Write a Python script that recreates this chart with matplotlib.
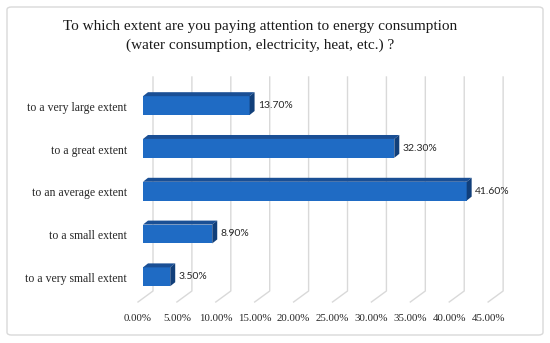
import matplotlib.pyplot as plt
from matplotlib.patches import Polygon, FancyBboxPatch

categories = ['to a very small extent', 'to a small extent', 'to an average extent',
              'to a great extent', 'to a very large extent']
values = [3.5, 8.9, 41.6, 32.3, 13.7]
ticks = [0, 5, 10, 15, 20, 25, 30, 35, 40, 45]
tick_labels = ['%.2f%%' % t for t in ticks]
title = ('To which extent are you paying attention to energy consumption\n'
         '(water consumption, electricity, heat, etc.) ?')

serif = 'Liberation Serif'
sans = 'Lato'

fig = plt.figure(figsize=(5.5, 3.43), dpi=100)
ax = fig.add_axes([0, 0, 1, 1])
ax.set_xlim(-18.38, 52.31)
ax.set_ylim(-1.547, 6.467)
ax.axis('off')

# 3d look: depth offsets in data units
dx, dy = 0.64, 0.093          # bar depth
back = 1.285                  # back wall shift
front = -0.643                # front floor shift
top_y, wall_y, floor_y = 4.668, -0.332, -0.589
h = 0.22

# gridlines: back wall + floor diagonal
for t in ticks:
    ax.plot([t + back, t + back, t + front], [top_y, wall_y, floor_y],
            color='#d9d9d9', lw=1, zorder=1)

for i, (cat, v) in enumerate(zip(categories, values)):
    y0, y1 = i - h, i + h
    ax.add_patch(Polygon([(0, y0), (v, y0), (v, y1), (0, y1)],
                         closed=True, fc='#1f6bc4', ec='none', zorder=3))
    ax.add_patch(Polygon([(0, y1), (v, y1), (v + dx, y1 + dy), (dx, y1 + dy)],
                         closed=True, fc='#1a4f95', ec='none', zorder=3))
    ax.add_patch(Polygon([(v, y0), (v, y1), (v + dx, y1 + dy), (v + dx, y0 + dy)],
                         closed=True, fc='#113f7a', ec='none', zorder=3))
    ax.text(v + dx + 0.4, i, '%.2f%%' % v, ha='left', va='center',
            fontsize=7.5, family=sans, color='#262626', zorder=4)
    ax.text(-2.04, i - 0.05, cat, ha='right', va='center',
            fontsize=8.5, family=serif, color='#262626')

for t, lab in zip(ticks, tick_labels):
    ax.text(t + front, -0.963, lab, ha='center', va='center',
            fontsize=7.8, family=serif, color='#262626')

fig.text(260 / 550, 1 - 36 / 343, title, ha='center', va='center',
         multialignment='center', fontsize=11, family=serif,
         linespacing=1.5, color='#1a1a1a')

fig.patches.append(FancyBboxPatch((7 / 550, 8 / 343), 536 / 550, 328 / 343,
                                  boxstyle='round,pad=0,rounding_size=0.008',
                                  transform=fig.transFigure, fc='none',
                                  ec='#d9d9d9', lw=1))

fig.savefig('out.png', dpi=100)
